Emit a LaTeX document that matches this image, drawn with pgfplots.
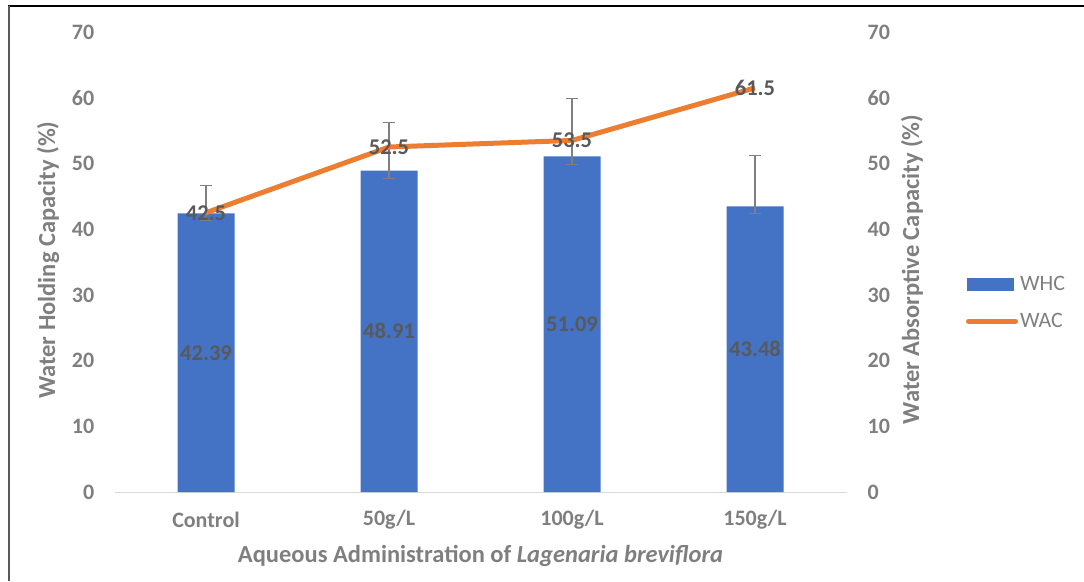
\documentclass[border=0pt]{standalone}
\usepackage{pgfplots}
\usepackage{pgfplotstable}
\pgfplotsset{compat=1.18}
\usepackage{fontspec}
\setmainfont{Carlito}
\definecolor{barblue}{HTML}{4472C4}
\definecolor{lineorange}{HTML}{ED7D31}
\definecolor{txtgray}{HTML}{7F7F7F}
\definecolor{lblgray}{HTML}{595959}
\definecolor{axgray}{HTML}{D9D9D9}
\pgfplotstableread{
x y ep em
0 42.39 4.2 1.1
1 48.91 7.3 1.2
2 51.09 8.8 1.2
3 43.48 7.7 1.1
}\whc
\pgfplotstableread{
x y
0 42.5
1 52.5
2 53.5
3 61.5
}\wac
\newcommand{\tickfont}{\bfseries\fontsize{22}{22}\selectfont}
\newcommand{\labfont}{\bfseries\fontsize{24.5}{24.5}\selectfont}
\newcommand{\datafont}{\bfseries\fontsize{22.5}{22.5}\selectfont}
\begin{document}
\begin{tikzpicture}
\useasboundingbox (0pt,0pt) rectangle (1084pt,-581pt);
\draw[black, line width=1.5pt] (8pt,-6pt) -- (1084pt,-6pt);
\draw[lblgray, line width=2pt] (9pt,-6pt) -- (9pt,-581pt);
\begin{axis}[
  at={(114.5pt,-492pt)}, anchor=south west,
  scale only axis, width=732pt, height=460pt,
  xmin=-0.5, xmax=3.5, ymin=0, ymax=70,
  /pgf/number format/assume math mode=true,
  axis x line*=bottom, axis y line*=left,
  x axis line style={draw=axgray, line width=1pt},
  y axis line style={draw=none},
  xtick={0,1,2,3}, xticklabels={Control,50g/L,100g/L,150g/L},
  ytick={0,10,...,70},
  xtick style={draw=none}, ytick style={draw=none},
  xticklabel style={anchor=center, yshift=-28pt, font=\tickfont, color=txtgray},
  yticklabel style={anchor=east, inner sep=0pt, xshift=-20pt, font=\tickfont, color=txtgray},
  xlabel={Aqueous Administration of \textit{Lagenaria breviflora}},
  ylabel={Water Holding Capacity (\%)},
  every axis x label/.style={at={(axis description cs:0.5,0)}, anchor=center, yshift=-64pt, font=\labfont, color=txtgray},
  every axis y label/.style={at={(axis description cs:-0.0908,0.504)}, rotate=90, anchor=center, font=\labfont, color=txtgray},
  legend style={at={(axis description cs:1.163,0.411)}, anchor=west, draw=none, fill=none,
    font=\fontsize{22}{22}\selectfont, text=txtgray, row sep=17pt, inner sep=0pt},
  legend cell align=left,
]
\addplot[ybar, bar width=57pt, fill=barblue, draw=none,
  legend image code/.code={\fill[barblue] (0pt,-6.5pt) rectangle (47pt,6.5pt);},
  error bars/.cd, y dir=both, y explicit,
  error bar style={txtgray, line width=1.3pt},
  error mark options={rotate=90, mark size=6pt, txtgray, line width=1.3pt}]
  table[x=x, y=y, y error plus=ep, y error minus=em]{\whc};
\addlegendentry{WHC}
\addplot[lineorange, line width=5pt, mark=none,
  legend image code/.code={\draw[lineorange, line width=5pt, line cap=round] (2pt,0pt) -- (49pt,0pt);}]
  table[x=x, y=y]{\wac};
\addlegendentry{WAC}
% bar labels at bar middle
\addplot[draw=none, mark=none, forget plot,
  nodes near coords,
  visualization depends on={rawy \as \rawy},
  every node near coord/.append style={anchor=center, yshift={-3.2857*\rawy}, font=\datafont, color=lblgray},
  /pgf/number format/.cd, fixed, precision=2, fixed zerofill]
  table[x=x, y=y]{\whc};
% line labels
\addplot[draw=none, mark=none, forget plot,
  nodes near coords,
  every node near coord/.append style={anchor=center, font=\datafont, color=lblgray},
  /pgf/number format/.cd, fixed, precision=1]
  table[x=x, y=y]{\wac};
\end{axis}
\begin{axis}[
  at={(114.5pt,-492pt)}, anchor=south west,
  scale only axis, width=732pt, height=460pt,
  xmin=-0.5, xmax=3.5, ymin=0, ymax=70,
  /pgf/number format/assume math mode=true,
  axis x line=none, axis y line*=right,
  y axis line style={draw=none},
  ytick={0,10,...,70}, ytick style={draw=none},
  yticklabel style={anchor=west, inner sep=0pt, xshift=21pt, font=\tickfont, color=txtgray},
  ylabel={Water Absorptive Capacity (\%)},
  every axis y label/.style={at={(axis description cs:1.0895,0.484)}, rotate=90, anchor=center, font=\labfont, color=txtgray},
]
\end{axis}
\end{tikzpicture}
\end{document}
